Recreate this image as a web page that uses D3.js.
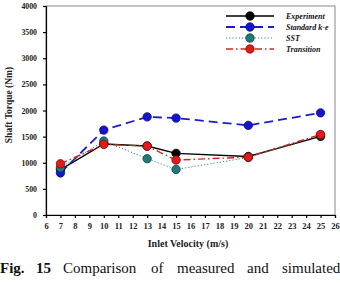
<!DOCTYPE html>
<html><head><meta charset="utf-8">
<script src="https://cdn.jsdelivr.net/npm/d3@7"></script>
<style>body{margin:0;background:#fff}svg{display:block}</style>
</head><body>
<svg id="c" width="340" height="284"></svg>
<script>
const velocities = [7, 10, 13, 15, 20, 25];
const experiment = [870, 1360, 1320, 1180, 1120, 1505];
const standardKE = [805, 1625, 1878, 1855, 1715, 1955];
const sst = [905, 1415, 1078, 872, 1100, 1530];
const transition = [980, 1352, 1318, 1052, 1108, 1542];
const xTicks = d3.range(6, 27);
const yTicks = [0, 500, 1000, 1500, 2000, 2500, 3000, 3500, 4000];
const seriesNames = ["Experiment", "Standard k-e", "SST", "Transition"];

const series = [
  {name: seriesNames[0], vals: experiment, color: "#000000", fill: "#000000", edge: "#000", dash: null, width: 1.4},
  {name: seriesNames[1], vals: standardKE, color: "#1c1cc8", fill: "#1515d0", edge: "#0a0a80", dash: "9,5", width: 1.8},
  {name: seriesNames[2], vals: sst, color: "#2a9090", fill: "#1f7a78", edge: "#0d4040", dash: "1.2,2", width: 1},
  {name: seriesNames[3], vals: transition, color: "#e02020", fill: "#e81818", edge: "#7a0a0a", dash: "7,3,1.5,3", width: 1.4}
];

const svg = d3.select("#c");
const L = 46, R = 335, T = 6, B = 215;
const x = d3.scaleLinear().domain([6, 26]).range([L, R]);
const y = d3.scaleLinear().domain([0, 4000]).range([B, T]);
const serif = "'Liberation Serif','Times New Roman',serif";

svg.append("rect").attr("x", L).attr("y", T).attr("width", R - L).attr("height", B - T)
  .attr("fill", "none").attr("stroke", "#888").attr("stroke-width", 1);

const xa = svg.append("g").attr("transform", `translate(0,${B})`)
  .call(d3.axisBottom(x).tickValues(xTicks).tickSize(3).tickFormat(d3.format("d")));
const ya = svg.append("g").attr("transform", `translate(${L},0)`)
  .call(d3.axisLeft(y).tickValues(yTicks).tickSize(3).tickFormat(d3.format("d")));
[xa, ya].forEach(a => {
  a.selectAll("path,line").attr("stroke", "#000").attr("stroke-width", 1.2);
  a.selectAll("text").attr("font-family", serif).attr("font-weight", "bold").attr("fill", "#222");
});
xa.selectAll("text").attr("font-size", 8.5).attr("dy", "0.95em");
ya.selectAll("text").attr("font-size", 7.8).attr("x", -9);

const line = d3.line().x((d, i) => x(velocities[i])).y(d => y(d));
series.forEach(s => {
  svg.append("path").attr("d", line(s.vals)).attr("fill", "none")
    .attr("stroke", s.color).attr("stroke-width", s.width)
    .attr("stroke-dasharray", s.dash);
});
series.forEach(s => {
  svg.selectAll(null).data(s.vals).enter().append("circle")
    .attr("cx", (d, i) => x(velocities[i])).attr("cy", d => y(d)).attr("r", 4.2)
    .attr("fill", s.fill).attr("stroke", s.edge).attr("stroke-width", 0.8);
});

// legend
const lg = svg.append("g");
series.forEach((s, i) => {
  const ly = 16 + i * 11;
  lg.append("line").attr("x1", 226).attr("x2", 274).attr("y1", ly).attr("y2", ly)
    .attr("stroke", s.color).attr("stroke-width", s.width).attr("stroke-dasharray", s.dash);
  lg.append("circle").attr("cx", 250).attr("cy", ly).attr("r", 4.2)
    .attr("fill", s.fill).attr("stroke", s.edge).attr("stroke-width", 0.8);
  lg.append("text").attr("x", 286).attr("y", ly + 2.8).text(s.name)
    .attr("font-family", serif).attr("font-style", "italic").attr("font-weight", "bold")
    .attr("font-size", 8).attr("fill", "#111");
});

svg.append("text").attr("transform", `translate(12,105) rotate(-90)`)
  .attr("text-anchor", "middle").text("Shaft Torque (Nm)")
  .attr("font-family", serif).attr("font-weight", "bold").attr("font-size", 9.5).attr("fill", "#222");
svg.append("text").attr("x", 188).attr("y", 246.5).attr("text-anchor", "middle").text("Inlet Velocity (m/s)")
  .attr("font-family", serif).attr("font-weight", "bold").attr("font-size", 10).attr("fill", "#222");

// caption (justified words)
const capWords = [["Fig.", 0, true], ["15", 36, true], ["Comparison", 63, false], ["of", 151, false],
  ["measured", 177, false], ["and", 247, false], ["simulated", 282, false]];
capWords.forEach(w => {
  svg.append("text").attr("x", w[1]).attr("y", 273).text(w[0])
    .attr("font-family", serif).attr("font-weight", w[2] ? "bold" : "normal")
    .attr("font-size", 15).attr("fill", "#111");
});
</script>
</body></html>
